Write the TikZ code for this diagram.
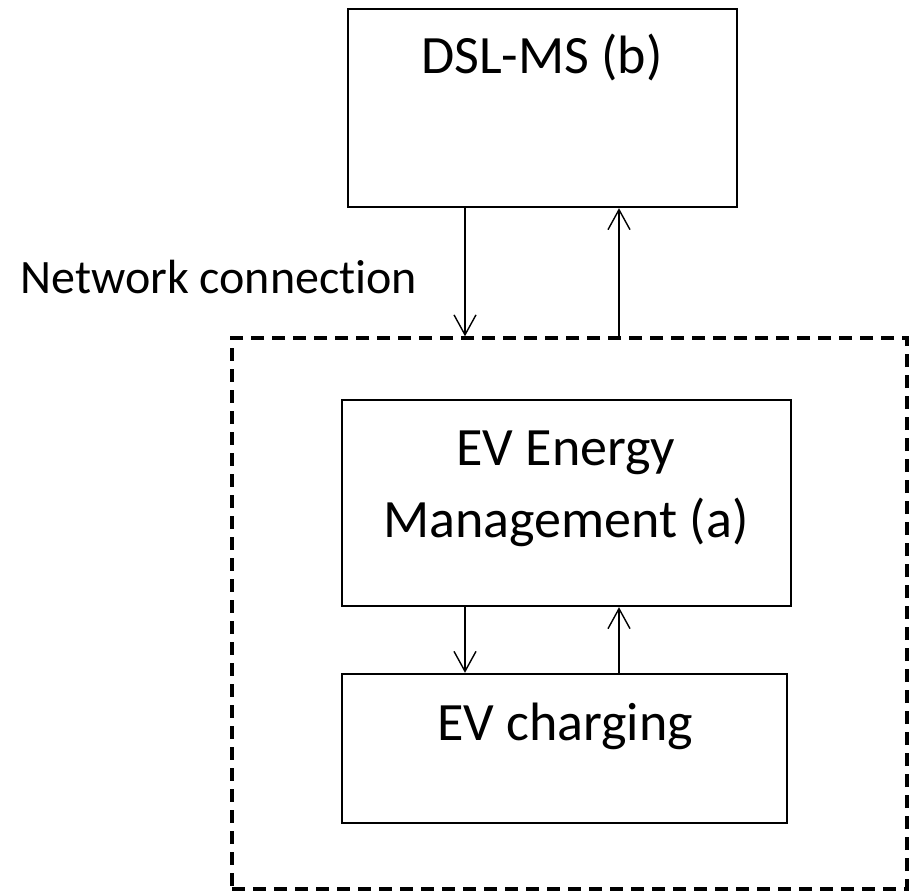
\documentclass[tikz,border=0pt]{standalone}
\usepackage{fontspec}
\setmainfont{Carlito}[Ligatures=NoCommon]
\usetikzlibrary{arrows.meta,fit}
\tikzset{block/.style={draw,line width=1.2pt,inner sep=0pt},
groupbox/.style={draw,line width=1.7pt,dash pattern=on 6.5pt off 4pt,inner sep=0pt},
flow/.style={line width=0.7pt,-{Straight Barb[length=10pt,width=11pt]}},
boxtext/.style={font=\fontsize{27}{36}\selectfont,inner sep=0pt,align=center},
sidetext/.style={font=\fontsize{24}{29}\selectfont,inner sep=0pt}}

\begin{document}
\begin{tikzpicture}[x=0.5pt,y=-0.5pt]
\useasboundingbox (0,0) rectangle (911,890);
% boxes (pixel coordinates of the original)
\node[block,fit={(348,9) (737,207)}] (dsl) {};
\node[groupbox,fit={(232,338) (907,889)}] (ev) {};
\node[block,fit={(342,400) (791,606)}] (mgmt) {};
\node[block,fit={(342,674) (787,823)}] (charge) {};
% texts (base = baseline of the last line)
\node[boxtext,anchor=base] (dsltext) at (542,73) {DSL-MS (b)};
\node[boxtext,anchor=base] (mgmttext) at (566,537) {EV Energy\\Management (a)};
\node[boxtext,anchor=base] (chargetext) at (565,740) {EV charging};
\node[sidetext,anchor=base west] (nettext) at (20,293) {Network connection};
% x positions of the arrows
\coordinate (down) at (465,0);
\coordinate (up) at (619,0);
\draw[flow] (dsl.south -| down) -- (ev.north -| down);
\draw[flow] (ev.north -| up) -- (dsl.south -| up);
\draw[flow] (mgmt.south -| down) -- (charge.north -| down);
\draw[flow] (charge.north -| up) -- (mgmt.south -| up);
\end{tikzpicture}
\end{document}
